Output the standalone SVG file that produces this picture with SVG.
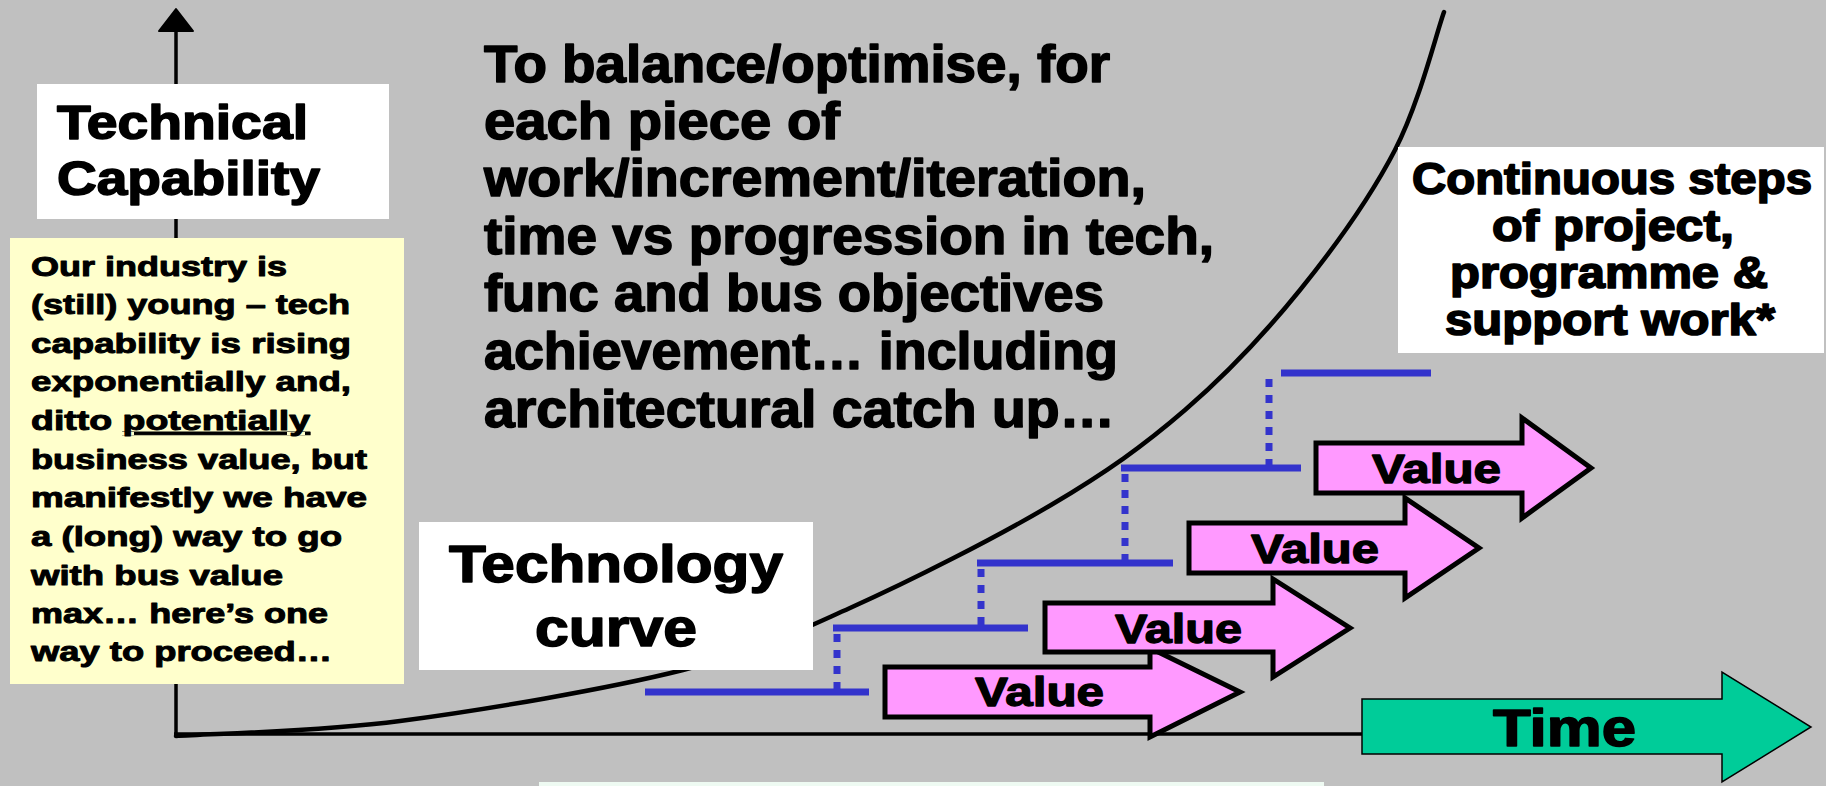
<svg xmlns="http://www.w3.org/2000/svg" width="1826" height="786" viewBox="0 0 1826 786">
  <style>
    .bg { fill: #c0c0c0; }
    .txt { font-family: "Liberation Sans", Arial, sans-serif; font-weight: bold; fill: #000; stroke: #000; stroke-linejoin: round; }
    .big { font-size: 51px; stroke-width: 1.5; }
    .label { font-size: 49px; stroke-width: 1.6; }
    .note { font-size: 28px; stroke-width: 1; }
    .steps { font-size: 44px; stroke-width: 1.7; }
    .val { font-size: 40px; stroke-width: 1.3; }
    .axis { stroke: #000; stroke-width: 3.5; fill: none; }
    .curve { stroke: #000; stroke-width: 4.5; fill: none; stroke-linecap: round; }
    .step { stroke: #3333cc; stroke-width: 7; fill: none; }
    .riser { stroke: #3333cc; stroke-width: 7; fill: none; stroke-dasharray: 8 8; }
    .value { fill: #ff99ff; stroke: #000; stroke-width: 5; stroke-linejoin: miter; }
    .box { fill: #fff; }
  </style>

  <rect class="bg" x="0" y="0" width="1826" height="786"/>

  <!-- axes, technology curve and stepped progression -->
  <g id="connectors">
    <line class="axis" x1="176" y1="28" x2="176" y2="734"/>
    <polygon points="176,9 159,31 193,31" fill="#000" stroke="#000" stroke-width="2" stroke-linejoin="round"/>
    <line class="axis" x1="174" y1="734" x2="1364" y2="734"/>
    <path class="curve" d="M176,736 C213.3,733.5 315.5,732 400,721 C484.5,710 608,688.8 683,670 C758,651.2 788.7,635.5 850,608 C911.3,580.5 995.2,538 1051,505 C1106.8,472 1143.5,445.8 1185,410 C1226.5,374.2 1265,333.3 1300,290 C1335,246.7 1371,196.3 1395,150 C1419,103.7 1435.8,35 1444,12"/>
    <g id="steps">
      <line class="step" x1="645" y1="692" x2="869" y2="692"/>
      <line class="riser" x1="837" y1="634" x2="837" y2="692"/>
      <line class="step" x1="833" y1="628" x2="1028" y2="628"/>
      <line class="riser" x1="981" y1="569" x2="981" y2="628"/>
      <line class="step" x1="977" y1="563" x2="1173" y2="563"/>
      <line class="riser" x1="1125" y1="474" x2="1125" y2="563"/>
      <line class="step" x1="1121" y1="468" x2="1301" y2="468"/>
      <line class="riser" x1="1269" y1="379" x2="1269" y2="468"/>
      <line class="step" x1="1281" y1="373" x2="1431" y2="373"/>
    </g>
  </g>

  <g id="technical-capability">
    <rect class="box" x="37" y="84" width="352" height="135"/>
    <text class="txt label" x="57" y="139" textLength="251" lengthAdjust="spacingAndGlyphs">Technical</text>
    <text class="txt label" x="57" y="195" textLength="263" lengthAdjust="spacingAndGlyphs">Capability</text>
  </g>

  <g id="industry-note">
    <rect x="10" y="238" width="394" height="446" fill="#ffffcc"/>
    <text class="txt note" x="31" y="276" textLength="256" lengthAdjust="spacingAndGlyphs">Our industry is</text>
    <text class="txt note" x="31" y="314" textLength="319" lengthAdjust="spacingAndGlyphs">(still) young – tech</text>
    <text class="txt note" x="31" y="353" textLength="320" lengthAdjust="spacingAndGlyphs">capability is rising</text>
    <text class="txt note" x="31" y="391" textLength="320" lengthAdjust="spacingAndGlyphs">exponentially and,</text>
    <text class="txt note" x="31" y="430" textLength="279" lengthAdjust="spacingAndGlyphs">ditto <tspan text-decoration="underline">potentially</tspan></text>
    <text class="txt note" x="31" y="469" textLength="336" lengthAdjust="spacingAndGlyphs">business value, but</text>
    <text class="txt note" x="31" y="507" textLength="336" lengthAdjust="spacingAndGlyphs">manifestly we have</text>
    <text class="txt note" x="31" y="546" textLength="311" lengthAdjust="spacingAndGlyphs">a (long) way to go</text>
    <text class="txt note" x="31" y="585" textLength="252" lengthAdjust="spacingAndGlyphs">with bus value</text>
    <text class="txt note" x="31" y="623" textLength="297" lengthAdjust="spacingAndGlyphs">max… here’s one</text>
    <text class="txt note" x="31" y="661" textLength="301" lengthAdjust="spacingAndGlyphs">way to proceed…</text>
  </g>

  <g id="balance-statement">
    <text class="txt big" x="484" y="82" textLength="626" lengthAdjust="spacingAndGlyphs">To balance/optimise, for</text>
    <text class="txt big" x="484" y="139" textLength="356" lengthAdjust="spacingAndGlyphs">each piece of</text>
    <text class="txt big" x="484" y="196" textLength="662" lengthAdjust="spacingAndGlyphs">work/increment/iteration,</text>
    <text class="txt big" x="484" y="254" textLength="730" lengthAdjust="spacingAndGlyphs">time vs progression in tech,</text>
    <text class="txt big" x="484" y="311" textLength="620" lengthAdjust="spacingAndGlyphs">func and bus objectives</text>
    <text class="txt big" x="484" y="369" textLength="634" lengthAdjust="spacingAndGlyphs">achievement… including</text>
    <text class="txt big" x="484" y="427" textLength="631" lengthAdjust="spacingAndGlyphs">architectural catch up…</text>
  </g>

  <g id="technology-curve">
    <rect class="box" x="419" y="522" width="394" height="148"/>
    <text class="txt big" x="449" y="582" font-size="53" textLength="334" lengthAdjust="spacingAndGlyphs">Technology</text>
    <text class="txt big" x="535" y="646" font-size="53" textLength="162" lengthAdjust="spacingAndGlyphs">curve</text>
  </g>

  <g id="continuous-steps">
    <rect class="box" x="1398" y="147" width="426" height="206"/>
    <text class="txt steps" x="1412" y="194" textLength="400" lengthAdjust="spacingAndGlyphs">Continuous steps</text>
    <text class="txt steps" x="1492" y="241" textLength="242" lengthAdjust="spacingAndGlyphs">of project,</text>
    <text class="txt steps" x="1450" y="288" textLength="318" lengthAdjust="spacingAndGlyphs">programme &amp;</text>
    <text class="txt steps" x="1445" y="335" textLength="330" lengthAdjust="spacingAndGlyphs">support work*</text>
  </g>

  <g id="value-1">
    <polygon class="value" points="885,667 1150,667 1150,648 1240,692 1150,737 1150,717 885,717"/>
    <text class="txt val" x="975" y="706" textLength="129" lengthAdjust="spacingAndGlyphs">Value</text>
  </g>
  <g id="value-2">
    <polygon class="value" points="1045,603 1273,603 1273,579 1350,628 1273,677 1273,652 1045,652"/>
    <text class="txt val" x="1115" y="643" textLength="127" lengthAdjust="spacingAndGlyphs">Value</text>
  </g>
  <g id="value-3">
    <polygon class="value" points="1189,523 1405,523 1405,498 1479,548 1405,598 1405,573 1189,573"/>
    <text class="txt val" x="1251" y="563" textLength="128" lengthAdjust="spacingAndGlyphs">Value</text>
  </g>
  <g id="value-4">
    <polygon class="value" points="1316,443 1522,443 1522,418 1591,468 1522,518 1522,493 1316,493"/>
    <text class="txt val" x="1372" y="483" textLength="129" lengthAdjust="spacingAndGlyphs">Value</text>
  </g>

  <g id="time-arrow">
    <polygon points="1362,699 1722,699 1722,672 1811,727 1722,782 1722,754 1362,754" fill="#00cc99" stroke="#000" stroke-width="1.5"/>
    <text class="txt big" x="1493" y="746" font-size="54" textLength="143" lengthAdjust="spacingAndGlyphs">Time</text>
  </g>

  <g id="footer-box">
    <rect x="539" y="782" width="785" height="10" fill="#eefaf2"/>
  </g>
</svg>
